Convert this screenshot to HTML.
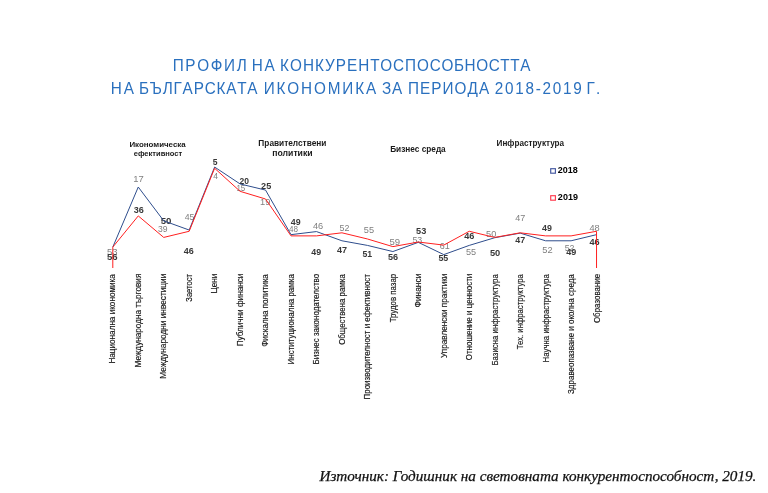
<!DOCTYPE html>
<html><head><meta charset="utf-8"><title>Профил на конкурентоспособността</title>
<style>
html,body{margin:0;padding:0;background:#fff;}
body{width:768px;height:493px;overflow:hidden;}
svg{display:block;filter:blur(0.3px);}
text{font-family:"Liberation Sans",Arial,sans-serif;}
.t{fill:#2A70BE;font-size:17px;}
.h{font-weight:bold;font-size:9.3px;fill:#1a1a1a;}
.ax{font-size:8.7px;fill:#151515;stroke:#151515;stroke-width:0.15px;}
.g{font-size:8.2px;fill:#7F7F7F;}
.b{font-size:8.4px;font-weight:bold;fill:#383838;}
.lg{font-size:8.6px;font-weight:bold;fill:#000;}
.src{font-family:"Liberation Serif","Times New Roman",serif;font-style:italic;font-size:15px;fill:#111;stroke:#111;stroke-width:0.25px;}
</style></head><body>
<svg width="768" height="493" viewBox="0 0 768 493">

<text class="t" transform="scale(0.900,1)" x="191.86 205.92 219.11 234.17 248.94 263.00 274.16 279.75 293.81 305.15 311.20 322.26 336.64 350.07 361.14 373.09 385.59 398.09 411.53 422.46 436.71 450.01 463.26 477.48 490.43 504.32 516.14 529.09 542.98 555.92 566.98 578.03" y="71.10">ПРОФИЛ НА КОНКУРЕНТОСПОСОБНОСТТА</text>
<text class="t" transform="scale(0.900,1)" x="123.08 137.47 148.81 154.42 166.46 180.80 192.84 202.92 215.15 227.37 240.53 251.32 263.54 274.81 286.15 293.08 307.35 319.30 334.57 348.89 364.16 380.37 394.63 406.58 417.92 424.52 435.47 446.81 453.31 466.69 479.19 491.69 505.08 519.46 532.14 543.48 549.71 561.09 572.48 583.86 595.25 602.84 614.23 625.61 637.00 646.45 651.64 662.19" y="94.20">НА БЪЛГАРСКАТА ИКОНОМИКА ЗА ПЕРИОДА 2018-2019 Г.</text>
<text class="h" style="font-size:8px" x="129.38" y="146.90" textLength="56.33" lengthAdjust="spacingAndGlyphs">Икономическа</text>
<text class="h" style="font-size:8px" x="133.70" y="155.50" textLength="48.54" lengthAdjust="spacingAndGlyphs">ефективност</text>
<text class="h" x="258.36" y="146.10" textLength="68.02" lengthAdjust="spacingAndGlyphs">Правителствени</text>
<text class="h" x="272.29" y="155.50" textLength="40.31" lengthAdjust="spacingAndGlyphs">политики</text>
<text class="h" x="390.16" y="152.20" textLength="55.56" lengthAdjust="spacingAndGlyphs">Бизнес среда</text>
<text class="h" x="496.57" y="145.80" textLength="67.55" lengthAdjust="spacingAndGlyphs">Инфраструктура</text>
<rect x="550.7" y="168.7" width="4.7" height="4.5" fill="none" stroke="#4357A0" stroke-width="1.15"/>
<rect x="550.7" y="195.7" width="4.7" height="4.5" fill="none" stroke="#FF3B4E" stroke-width="1.15"/>
<text class="lg" x="557.89" y="173.00" textLength="19.98" lengthAdjust="spacingAndGlyphs">2018</text>
<text class="lg" x="557.88" y="200.30" textLength="20.03" lengthAdjust="spacingAndGlyphs">2019</text>
<text class="g" x="107.02" y="254.60" textLength="10.58" lengthAdjust="spacingAndGlyphs">53</text>
<text class="g" x="133.39" y="182.00" textLength="10.50" lengthAdjust="spacingAndGlyphs">17</text>
<text class="g" x="157.96" y="231.90" textLength="9.55" lengthAdjust="spacingAndGlyphs">39</text>
<text class="g" x="184.72" y="219.60" textLength="9.75" lengthAdjust="spacingAndGlyphs">45</text>
<text class="g" x="213.33" y="179.20" textLength="4.85" lengthAdjust="spacingAndGlyphs">4</text>
<text class="g" x="236.40" y="190.80" textLength="8.94" lengthAdjust="spacingAndGlyphs">15</text>
<text class="g" x="260.10" y="204.70" textLength="10.34" lengthAdjust="spacingAndGlyphs">19</text>
<text class="g" x="288.94" y="231.90" textLength="9.00" lengthAdjust="spacingAndGlyphs">48</text>
<text class="g" x="312.92" y="228.90" textLength="10.28" lengthAdjust="spacingAndGlyphs">46</text>
<text class="g" x="339.54" y="230.50" textLength="9.92" lengthAdjust="spacingAndGlyphs">52</text>
<text class="g" x="363.83" y="233.00" textLength="10.26" lengthAdjust="spacingAndGlyphs">55</text>
<text class="g" x="389.42" y="245.30" textLength="10.64" lengthAdjust="spacingAndGlyphs">59</text>
<text class="g" x="412.45" y="242.50" textLength="9.83" lengthAdjust="spacingAndGlyphs">53</text>
<text class="g" x="439.75" y="248.90" textLength="9.97" lengthAdjust="spacingAndGlyphs">61</text>
<text class="g" x="466.03" y="255.00" textLength="10.15" lengthAdjust="spacingAndGlyphs">55</text>
<text class="g" x="486.13" y="236.90" textLength="10.21" lengthAdjust="spacingAndGlyphs">50</text>
<text class="g" x="515.22" y="221.40" textLength="10.05" lengthAdjust="spacingAndGlyphs">47</text>
<text class="g" x="542.33" y="252.70" textLength="10.36" lengthAdjust="spacingAndGlyphs">52</text>
<text class="g" x="564.65" y="250.50" textLength="9.81" lengthAdjust="spacingAndGlyphs">52</text>
<text class="g" x="589.42" y="230.80" textLength="10.28" lengthAdjust="spacingAndGlyphs">48</text>
<text class="b" x="106.91" y="260.00" textLength="10.64" lengthAdjust="spacingAndGlyphs">56</text>
<text class="b" x="133.67" y="212.90" textLength="10.06" lengthAdjust="spacingAndGlyphs">36</text>
<text class="b" x="160.71" y="223.80" textLength="10.80" lengthAdjust="spacingAndGlyphs">50</text>
<text class="b" x="183.67" y="253.90" textLength="9.97" lengthAdjust="spacingAndGlyphs">46</text>
<text class="b" x="212.74" y="164.60" textLength="4.78" lengthAdjust="spacingAndGlyphs">5</text>
<text class="b" x="239.50" y="183.80" textLength="9.46" lengthAdjust="spacingAndGlyphs">20</text>
<text class="b" x="261.08" y="189.10" textLength="10.17" lengthAdjust="spacingAndGlyphs">25</text>
<text class="b" x="290.87" y="224.90" textLength="9.86" lengthAdjust="spacingAndGlyphs">49</text>
<text class="b" x="311.27" y="254.80" textLength="9.86" lengthAdjust="spacingAndGlyphs">49</text>
<text class="b" x="337.06" y="253.10" textLength="10.02" lengthAdjust="spacingAndGlyphs">47</text>
<text class="b" x="362.44" y="256.60" textLength="9.70" lengthAdjust="spacingAndGlyphs">51</text>
<text class="b" x="387.93" y="260.40" textLength="10.11" lengthAdjust="spacingAndGlyphs">56</text>
<text class="b" x="416.12" y="234.40" textLength="10.22" lengthAdjust="spacingAndGlyphs">53</text>
<text class="b" x="438.43" y="260.80" textLength="9.91" lengthAdjust="spacingAndGlyphs">55</text>
<text class="b" x="464.26" y="239.10" textLength="10.18" lengthAdjust="spacingAndGlyphs">46</text>
<text class="b" x="489.92" y="255.80" textLength="10.37" lengthAdjust="spacingAndGlyphs">50</text>
<text class="b" x="515.27" y="242.70" textLength="9.91" lengthAdjust="spacingAndGlyphs">47</text>
<text class="b" x="542.07" y="230.90" textLength="9.86" lengthAdjust="spacingAndGlyphs">49</text>
<text class="b" x="566.26" y="255.20" textLength="10.07" lengthAdjust="spacingAndGlyphs">49</text>
<text class="b" x="589.46" y="244.50" textLength="10.18" lengthAdjust="spacingAndGlyphs">46</text>
<polyline points="112.80,247.10 138.26,187.02 163.72,220.82 189.18,230.04 214.64,167.05 240.10,183.95 265.56,190.09 291.02,234.65 316.48,231.57 341.94,240.79 367.40,245.40 392.86,251.55 418.32,242.33 443.78,254.62 469.24,245.40 494.70,237.72 520.16,233.11 545.62,240.79 571.08,240.79 596.54,234.65" fill="none" stroke="#2E4D8C" stroke-width="1.00" stroke-linejoin="round"/>
<polyline points="112.80,247.10 138.26,215.91 163.72,237.42 189.18,231.27 214.64,168.28 240.10,191.33 265.56,199.01 291.02,235.88 316.48,235.88 341.94,232.81 367.40,238.96 392.86,246.64 418.32,242.03 443.78,245.10 469.24,231.27 494.70,237.42 520.16,232.81 545.62,235.88 571.08,235.88 596.54,231.27" fill="none" stroke="#FF1F1F" stroke-width="1.00" stroke-linejoin="round"/>
<line x1="112.80" y1="247.10" x2="112.80" y2="268" stroke="#FF1F1F" stroke-width="1.00"/>
<line x1="596.54" y1="231.27" x2="596.54" y2="268" stroke="#FF1F1F" stroke-width="1.00"/>
<text class="ax" transform="translate(115.00,362.90) rotate(-90)" x="-0.65" y="0" textLength="89.37" lengthAdjust="spacingAndGlyphs">Национална икономика</text>
<text class="ax" transform="translate(140.50,366.80) rotate(-90)" x="-0.65" y="0" textLength="93.78" lengthAdjust="spacingAndGlyphs">Международна търговия</text>
<text class="ax" transform="translate(166.00,378.10) rotate(-90)" x="-0.66" y="0" textLength="105.11" lengthAdjust="spacingAndGlyphs">Международни инвестиции</text>
<text class="ax" transform="translate(191.50,301.40) rotate(-90)" x="-0.27" y="0" textLength="27.61" lengthAdjust="spacingAndGlyphs">Заетост</text>
<text class="ax" transform="translate(217.00,292.80) rotate(-90)" x="-0.66" y="0" textLength="19.81" lengthAdjust="spacingAndGlyphs">Цени</text>
<text class="ax" transform="translate(242.50,345.70) rotate(-90)" x="-0.65" y="0" textLength="72.73" lengthAdjust="spacingAndGlyphs">Публични финанси</text>
<text class="ax" transform="translate(268.00,346.30) rotate(-90)" x="-0.44" y="0" textLength="72.53" lengthAdjust="spacingAndGlyphs">Фискална политика</text>
<text class="ax" transform="translate(293.50,363.80) rotate(-90)" x="-0.64" y="0" textLength="90.26" lengthAdjust="spacingAndGlyphs">Институционална рамка</text>
<text class="ax" transform="translate(319.00,363.80) rotate(-90)" x="-0.64" y="0" textLength="90.56" lengthAdjust="spacingAndGlyphs">Бизнес законодателство</text>
<text class="ax" transform="translate(344.50,344.50) rotate(-90)" x="-0.36" y="0" textLength="70.65" lengthAdjust="spacingAndGlyphs">Обществена рамка</text>
<text class="ax" transform="translate(370.00,398.80) rotate(-90)" x="-0.64" y="0" textLength="125.37" lengthAdjust="spacingAndGlyphs">Производителност и ефективност</text>
<text class="ax" transform="translate(395.50,322.10) rotate(-90)" x="-0.16" y="0" textLength="48.39" lengthAdjust="spacingAndGlyphs">Трудов пазар</text>
<text class="ax" transform="translate(421.00,307.00) rotate(-90)" x="-0.46" y="0" textLength="33.83" lengthAdjust="spacingAndGlyphs">Финанси</text>
<text class="ax" transform="translate(446.50,357.80) rotate(-90)" x="-0.25" y="0" textLength="84.41" lengthAdjust="spacingAndGlyphs">Управленски практики</text>
<text class="ax" transform="translate(472.00,360.00) rotate(-90)" x="-0.36" y="0" textLength="86.72" lengthAdjust="spacingAndGlyphs">Отношение и ценности</text>
<text class="ax" transform="translate(497.50,364.90) rotate(-90)" x="-0.63" y="0" textLength="91.35" lengthAdjust="spacingAndGlyphs">Базисна инфраструктура</text>
<text class="ax" transform="translate(523.00,349.10) rotate(-90)" x="-0.15" y="0" textLength="75.07" lengthAdjust="spacingAndGlyphs">Тех. инфраструктура</text>
<text class="ax" transform="translate(548.50,361.80) rotate(-90)" x="-0.63" y="0" textLength="88.25" lengthAdjust="spacingAndGlyphs">Научна инфраструктура</text>
<text class="ax" transform="translate(574.00,393.70) rotate(-90)" x="-0.28" y="0" textLength="119.78" lengthAdjust="spacingAndGlyphs">Здравеопазване и околна среда</text>
<text class="ax" transform="translate(599.50,322.70) rotate(-90)" x="-0.36" y="0" textLength="49.24" lengthAdjust="spacingAndGlyphs">Образование</text>
<text class="src" x="319.45" y="480.90" textLength="436.99" lengthAdjust="spacingAndGlyphs">Източник: Годишник на световната конкурентоспособност, 2019.</text>
</svg>
</body></html>
